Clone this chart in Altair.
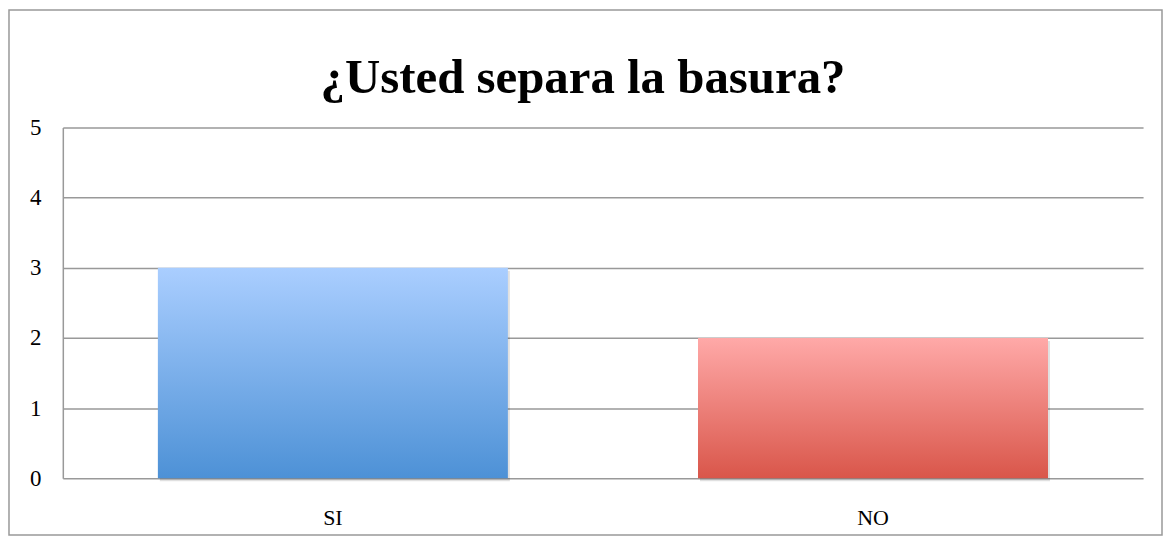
import altair as alt
import pandas as pd

categories = ["SI", "NO"]
values = [3, 2]
title_text = "¿Usted separa la basura?"

df = pd.DataFrame({"cat": categories, "val": values})

FONT = "Liberation Serif"
W, H = 1084, 352

x_enc = alt.X("cat:N", sort=categories, title=None,
              scale=alt.Scale(paddingInner=0.352, paddingOuter=0.176),
              axis=alt.Axis(domain=False, ticks=False, labelAngle=0, labelFont=FONT,
                            labelFontSize=22, labelColor="#000", labelPadding=29, grid=False))
y_enc = alt.Y("val:Q", title=None, scale=alt.Scale(domain=[0, 5]),
              axis=alt.Axis(values=[0, 1, 2, 3, 4, 5], ticks=False, domain=True,
                            domainColor="#999999", domainWidth=1.5, gridColor="#999999",
                            gridWidth=1.5, gridOpacity=1, labelFont=FONT, labelFontSize=23,
                            labelColor="#000", labelPadding=22))

def grad(top, bottom):
    return alt.Gradient(gradient="linear", x1=0, y1=1, x2=0, y2=0,
                        stops=[alt.GradientStop(color=bottom, offset=0),
                               alt.GradientStop(color=top, offset=1)])

shadow = alt.Chart(df).mark_bar(color="#000000", opacity=0.12, xOffset=2, yOffset=3).encode(
    x=x_enc, y=y_enc)

blue = alt.Chart(df).transform_filter(alt.datum.cat == "SI").mark_bar(
    color=grad("#AACEFF", "#4D91D6")).encode(x=x_enc, y=y_enc)
red = alt.Chart(df).transform_filter(alt.datum.cat == "NO").mark_bar(
    color=grad("#FFA9A8", "#D9564A")).encode(x=x_enc, y=y_enc)

one = pd.DataFrame({"t": [title_text]})

border = alt.Chart(one).mark_rect(
    fill=None, stroke="#999999", strokeWidth=1.5).encode(
    x=alt.value(-54), x2=alt.value(1103), y=alt.value(-118), y2=alt.value(409))

title = alt.Chart(one).mark_text(
    font=FONT, fontSize=49, fontWeight="bold", color="#000", align="center",
    baseline="alphabetic").encode(x=alt.value(522), y=alt.value(-35), text="t:N")

chart = alt.layer(border, shadow, blue, red, title).properties(
    width=W, height=H,
    padding={"left": 55, "top": 119, "right": 20, "bottom": 58},
    autosize=alt.AutoSizeParams(type="none"),
).configure_view(stroke=None)

chart.save("out.html", embed_options={"renderer": "svg", "actions": False})
